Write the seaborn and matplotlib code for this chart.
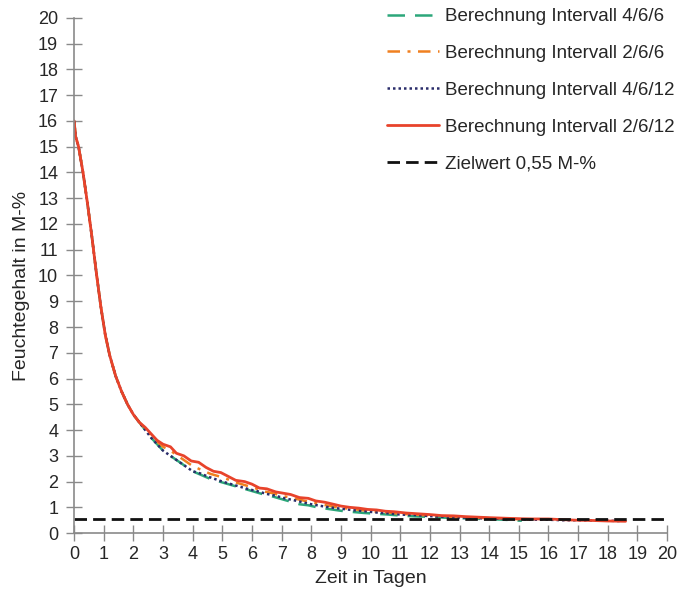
import pandas as pd
import matplotlib.pyplot as plt
import seaborn as sns

# shared initial drying phase (all calculations coincide up to ~2.2 days)
start_days = [0, 0.05, 0.15, 0.3, 0.45, 0.6, 0.75, 0.9, 1.05, 1.2, 1.4, 1.6, 1.8, 2.0, 2.2]
start_vals = [16.0, 15.4, 15.0, 14.0, 12.8, 11.5, 10.1, 8.8, 7.7, 6.9, 6.1, 5.5, 5.0, 4.6, 4.3]

# Berechnung Intervall 2/6/12 (red)
red_days = [2.4, 2.6, 2.8, 3.0, 3.25, 3.45, 3.7, 3.95, 4.2, 4.45, 4.7, 4.95, 5.2, 5.45,
            5.75, 6.0, 6.25, 6.5, 6.8, 7.05, 7.3, 7.6, 7.9, 8.15, 8.45, 8.75, 9.0, 9.3,
            9.6, 9.9, 10.2, 10.5, 10.8, 11.2, 11.6, 12.0, 12.4, 12.8, 13.2, 13.6, 14.0,
            14.5, 15.0, 15.5, 16.0, 16.5, 17.0, 17.5, 18.0, 18.6]
red_vals = [4.1, 3.85, 3.6, 3.45, 3.35, 3.1, 3.0, 2.8, 2.75, 2.55, 2.4, 2.35, 2.2, 2.05,
            2.0, 1.9, 1.75, 1.72, 1.6, 1.55, 1.5, 1.38, 1.35, 1.25, 1.2, 1.12, 1.05, 1.0,
            0.97, 0.92, 0.9, 0.85, 0.83, 0.78, 0.75, 0.72, 0.68, 0.67, 0.64, 0.62, 0.6,
            0.58, 0.56, 0.55, 0.55, 0.52, 0.5, 0.49, 0.47, 0.46]

# Berechnung Intervall 4/6/12 (dotted navy)
blue_days = [2.4, 2.6, 2.8, 3.0, 3.25, 3.5, 3.75, 4.0, 4.25, 4.5, 4.75, 5.0, 5.3, 5.6,
             5.9, 6.2, 6.5, 6.8, 7.1, 7.4, 7.7, 8.0, 8.3, 8.6, 8.9, 9.2, 9.5, 9.8, 10.2,
             10.6, 11.0, 11.5, 12.0, 12.5, 13.0, 13.5, 14.0, 14.5, 15.0, 15.5, 16.0,
             16.5, 17.0, 17.5, 18.0, 18.4]
blue_vals = [4.0, 3.7, 3.45, 3.2, 3.0, 2.8, 2.6, 2.4, 2.32, 2.2, 2.1, 2.0, 1.9, 1.8,
             1.7, 1.62, 1.52, 1.45, 1.35, 1.28, 1.2, 1.12, 1.06, 1.0, 0.96, 0.92, 0.88,
             0.85, 0.8, 0.77, 0.72, 0.7, 0.66, 0.63, 0.61, 0.58, 0.57, 0.55, 0.54, 0.52,
             0.52, 0.5, 0.5, 0.49, 0.48, 0.47]

# Berechnung Intervall 2/6/6 (dash-dot orange)
orange_days = [2.4, 2.6, 2.8, 3.0, 3.25, 3.5, 3.75, 4.0, 4.3, 4.6, 4.9, 5.2, 5.5, 5.8,
               6.1, 6.4, 6.7, 7.0, 7.3, 7.6, 7.9, 8.2, 8.5, 8.8, 9.1, 9.4, 9.8, 10.2,
               10.6, 11.0, 11.5, 12.0, 12.5, 13.0, 13.5, 14.0, 14.5, 15.0, 15.6]
orange_vals = [4.05, 3.8, 3.55, 3.35, 3.2, 3.0, 2.8, 2.6, 2.45, 2.3, 2.2, 2.08, 1.95,
               1.85, 1.75, 1.62, 1.55, 1.45, 1.38, 1.3, 1.22, 1.15, 1.08, 1.02, 0.97,
               0.93, 0.88, 0.83, 0.8, 0.75, 0.72, 0.68, 0.65, 0.62, 0.6, 0.58, 0.56,
               0.54, 0.52]

# Berechnung Intervall 4/6/6 (dashed green)
green_days = [2.4, 2.6, 2.8, 3.0, 3.25, 3.5, 3.75, 4.0, 4.3, 4.6, 4.9, 5.2, 5.5, 5.8,
              6.1, 6.4, 6.7, 7.0, 7.3, 7.6, 7.9, 8.2, 8.5, 8.8, 9.1, 9.4, 9.8, 10.2,
              10.6, 11.0, 11.5, 12.0, 12.5, 13.0, 13.5, 14.0, 14.5, 15.1]
green_vals = [4.0, 3.7, 3.45, 3.2, 3.0, 2.8, 2.6, 2.4, 2.25, 2.1, 2.0, 1.9, 1.8, 1.7,
              1.6, 1.5, 1.42, 1.32, 1.22, 1.12, 1.08, 1.0, 0.95, 0.9, 0.85, 0.82, 0.78,
              0.75, 0.72, 0.68, 0.65, 0.63, 0.6, 0.58, 0.56, 0.54, 0.52, 0.48]

target_days = [0, 20]
target_vals = [0.55, 0.55]

labels = ['Berechnung Intervall 4/6/6', 'Berechnung Intervall 2/6/6',
          'Berechnung Intervall 4/6/12', 'Berechnung Intervall 2/6/12',
          'Zielwert 0,55 M-%']

series = {
    labels[0]: (start_days + green_days, start_vals + green_vals),
    labels[1]: (start_days + orange_days, start_vals + orange_vals),
    labels[2]: (start_days + blue_days, start_vals + blue_vals),
    labels[3]: (start_days + red_days, start_vals + red_vals),
    labels[4]: (target_days, target_vals),
}
styles = {
    labels[0]: dict(color='#2ca77a', lw=1.8, dashes=(7, 4)),
    labels[1]: dict(color='#f08020', lw=1.8, dashes=(5, 3, 1.2, 3)),
    labels[2]: dict(color='#2b2d6b', lw=1.8, dashes=(1, 1.2)),
    labels[3]: dict(color='#e8432b', lw=2.0, dashes=()),
    labels[4]: dict(color='#111111', lw=2.0, dashes=(4.5, 2.2)),
}

sns.set_style('white')
plt.rcParams['font.family'] = ['Liberation Sans', 'DejaVu Sans']

f = plt.figure(figsize=(6.8, 5.95), dpi=100)
ax = f.add_axes([0.109, 0.104, 0.872, 0.866])

for name in labels:
    d, v = series[name]
    df = pd.DataFrame({'Zeit': d, 'Feuchte': v})
    st = styles[name]
    line_kws = dict(color=st['color'], linewidth=st['lw'], label=name, sort=False)
    sns.lineplot(ax=ax, x='Zeit', y='Feuchte', data=df, **line_kws)
    ln = ax.lines[-1]
    if st['dashes']:
        ln.set_dashes(st['dashes'])

ax.set_xlim(0, 20)
ax.set_ylim(0, 20)
ax.set_xticks(range(0, 21))
ax.set_yticks(range(0, 21))
ax.set_xlabel('Zeit in Tagen', fontsize=14, labelpad=5)
ax.set_ylabel('Feuchtegehalt in M-%', fontsize=14)
ax.yaxis.set_label_coords(-0.074, 0.48)
ax.tick_params(axis='both', labelsize=13, direction='inout', length=11, width=1,
               color='#8a8a8a', left=True, bottom=True)
ax.tick_params(axis='y', pad=6)
ax.tick_params(axis='x', pad=4)
for s in ['top', 'right']:
    ax.spines[s].set_visible(False)
for s in ['left', 'bottom']:
    ax.spines[s].set_color('#8a8a8a')
    ax.spines[s].set_linewidth(1.2)

handles, lbls = ax.get_legend_handles_labels()
if ax.get_legend():
    ax.get_legend().remove()
f.legend(handles, lbls, loc='upper left', bbox_to_anchor=(0.558, 0.999),
         frameon=False, fontsize=13.5, handlelength=2.8, handletextpad=0.3,
         labelspacing=1.05, borderaxespad=0)

f.savefig('out.png', dpi=100)
